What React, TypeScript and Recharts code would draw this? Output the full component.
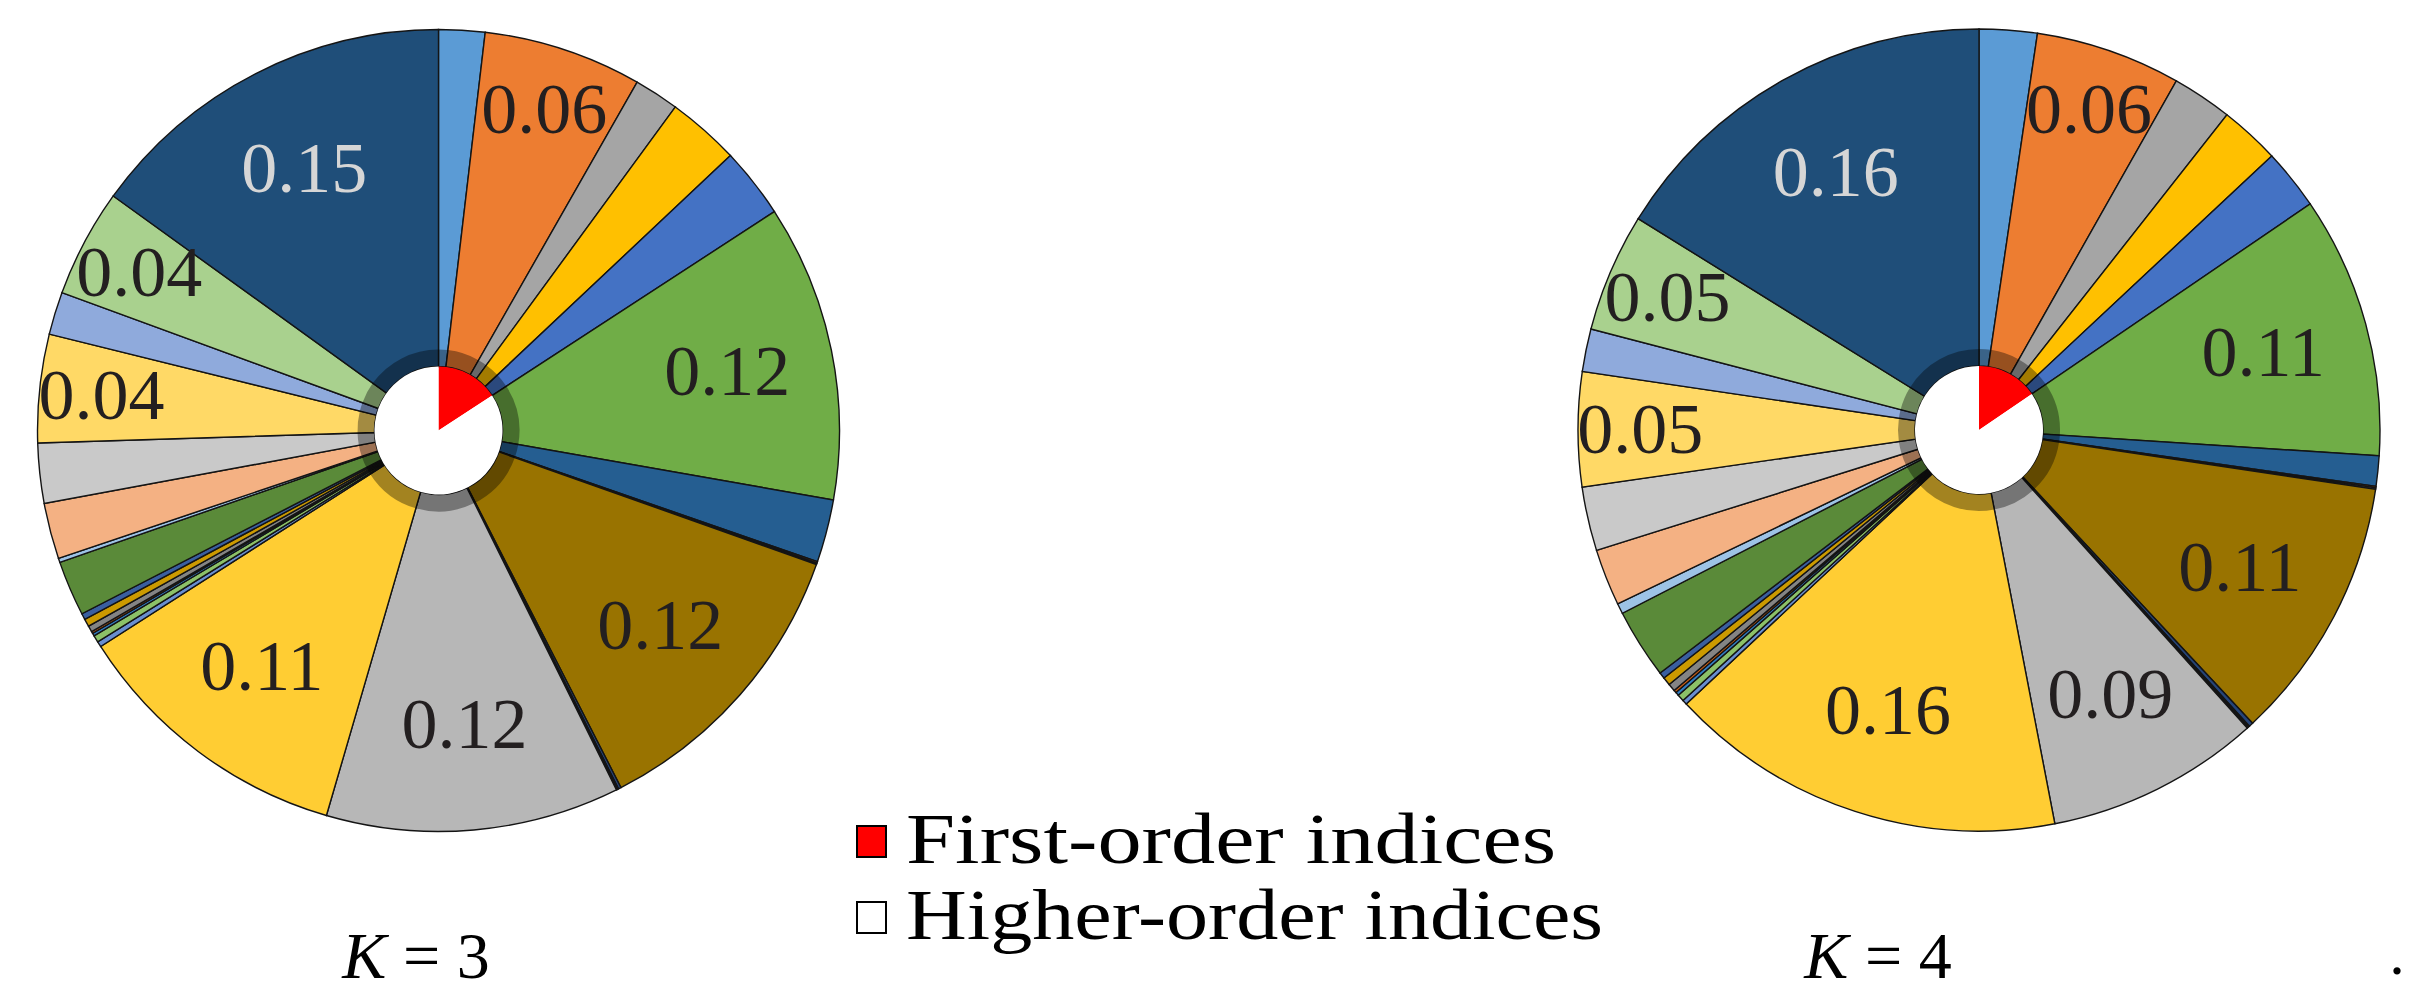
import React from 'react';
import { PieChart, Pie, Cell } from 'recharts';

// 31 Sobol index subsets (5 first-order + 26 higher-order)
const indexNames = [
  'S1', 'S2', 'S3', 'S4', 'S5',
  'S12', 'S13', 'S14', 'S15', 'S23', 'S24', 'S25', 'S34', 'S35', 'S45',
  'S123', 'S124', 'S125', 'S134', 'S135', 'S145', 'S234', 'S235', 'S245', 'S345',
  'S1234', 'S1235', 'S1245', 'S1345', 'S2345', 'S12345',
];

const sliceColors = [
  '#5B9BD5', '#ED7D31', '#A5A5A5', '#FFC000', '#4472C4',
  '#70AD47', '#255E91', '#9E480E', '#636363', '#997300',
  '#264478', '#43682B', '#7CAFDD', '#F1975A', '#B7B7B7',
  '#FFCD33', '#698ED0', '#8CC168', '#327DC2', '#D26012',
  '#848484', '#CC9A00', '#3A5FA0', '#5A8A39', '#9DC3E6',
  '#F4B183', '#C9C9C9', '#FFD966', '#8FAADC', '#A9D18E',
  '#1F4E79',
];

const valuesK3 = [
  0.0186, 0.0639, 0.0181, 0.0292, 0.0283,
  0.1197, 0.0253, 0.0006, 0.0006, 0.1206,
  0.0011, 0.0003, 0.0003, 0.0003, 0.1183,
  0.1144, 0.0022, 0.0028, 0.0011, 0.0008,
  0.0025, 0.0031, 0.0025, 0.0222, 0.0017,
  0.0225, 0.0242, 0.0436, 0.0172, 0.0436,
  0.1506,
];

const valuesK4 = [
  0.0233, 0.0586, 0.0242, 0.0242, 0.0244,
  0.1056, 0.0122, 0.0006, 0.0006, 0.1069,
  0.0017, 0.0004, 0.0004, 0.0004, 0.0863,
  0.1606, 0.0019, 0.0028, 0.0014, 0.0011,
  0.0031, 0.0033, 0.0025, 0.0281, 0.0042,
  0.0228, 0.0258, 0.0461, 0.0172, 0.0478,
  0.1617,
];

const firstOrderCount = 5;
const panelTitles = ['3', '4'];
const legendLabels = ['First-order indices', 'Higher-order indices'];
const legendColors = ['#FF0000', '#FFFFFF'];

const W = 2417;
const H = 996;
const R_OUT = 401;
const R_IN = 64;
const R_RING = 81;
const SERIF = "'Liberation Serif', 'DejaVu Serif', serif";
const RAD = Math.PI / 180;

const toData = (values: number[]) =>
  values.map((v, i) => ({ name: indexNames[i], value: v }));

const toInner = (values: number[]) => {
  const total = values.reduce((a, b) => a + b, 0);
  const first = values.slice(0, firstOrderCount).reduce((a, b) => a + b, 0);
  return [
    { name: legendLabels[0], value: first },
    { name: legendLabels[1], value: total - first },
  ];
};

const renderLabel = (props: any) => {
  const { cx, cy, midAngle, outerRadius, value, index } = props;
  if (value < 0.035) return null;
  const r = outerRadius * (value >= 0.08 ? 0.735 : 0.845);
  const x = cx + r * Math.cos(-midAngle * RAD);
  const y = cy + r * Math.sin(-midAngle * RAD);
  const light = index === indexNames.length - 1;
  return (
    <text
      x={x}
      y={y}
      textAnchor="middle"
      dominantBaseline="central"
      fill={light ? '#D6D6D6' : '#231F20'}
      fontSize={72}
      fontFamily={SERIF}
    >
      {Number(value).toFixed(2)}
    </text>
  );
};

const centers = [
  { cx: 438.5, cy: 430.5 },
  { cx: 1979, cy: 430 },
];

const legendWidths = [650, 697];

export default function App() {
  const panels = [valuesK3, valuesK4];
  return (
    <div style={{ position: 'absolute', left: 0, top: 0, width: W, height: H, background: '#fff' }}>
      <PieChart width={W} height={H} margin={{ top: 0, right: 0, bottom: 0, left: 0 }}>
        {panels.map((vals, p) => (
          <Pie
            key={'outer' + p}
            data={toData(vals)}
            dataKey="value"
            nameKey="name"
            cx={centers[p].cx}
            cy={centers[p].cy}
            innerRadius={R_IN}
            outerRadius={R_OUT}
            startAngle={90}
            endAngle={-270}
            stroke="#141414"
            strokeWidth={1.4}
            label={renderLabel}
            labelLine={false}
            isAnimationActive={false}
          >
            {vals.map((_, i) => (
              <Cell key={i} fill={sliceColors[i]} />
            ))}
          </Pie>
        ))}
        {panels.map((vals, p) => (
          <Pie
            key={'ring' + p}
            data={toData(vals)}
            dataKey="value"
            nameKey="name"
            cx={centers[p].cx}
            cy={centers[p].cy}
            innerRadius={R_IN}
            outerRadius={R_RING}
            startAngle={90}
            endAngle={-270}
            stroke="none"
            isAnimationActive={false}
          >
            {vals.map((_, i) => (
              <Cell key={i} fill="#000000" fillOpacity={0.36} />
            ))}
          </Pie>
        ))}
        {panels.map((vals, p) => (
          <Pie
            key={'inner' + p}
            data={toInner(vals)}
            dataKey="value"
            nameKey="name"
            cx={centers[p].cx}
            cy={centers[p].cy}
            innerRadius={0}
            outerRadius={R_IN}
            startAngle={90}
            endAngle={-270}
            stroke="none"
            isAnimationActive={false}
          >
            {legendColors.map((c, i) => (
              <Cell key={i} fill={c} />
            ))}
          </Pie>
        ))}
      </PieChart>
      <svg
        width={W}
        height={H}
        style={{ position: 'absolute', left: 0, top: 0, pointerEvents: 'none' }}
      >
        {legendLabels.map((lab, i) => (
          <g key={lab}>
            <rect
              x={857}
              y={826 + i * 76}
              width={29}
              height={31}
              fill={legendColors[i]}
              stroke="#000"
              strokeWidth={2}
            />
            <text
              x={906}
              y={863 + i * 76}
              fontSize={72}
              fontFamily={SERIF}
              fill="#000"
              textLength={legendWidths[i]}
              lengthAdjust="spacingAndGlyphs"
            >
              {lab}
            </text>
          </g>
        ))}
        <text x={416} y={978} textAnchor="middle" fontSize={66} fontFamily={SERIF} fill="#000">
          <tspan fontStyle="italic">K</tspan>
          <tspan> = {panelTitles[0]}</tspan>
        </text>
        <text x={1878} y={978} textAnchor="middle" fontSize={66} fontFamily={SERIF} fill="#000">
          <tspan fontStyle="italic">K</tspan>
          <tspan> = {panelTitles[1]}</tspan>
        </text>
        <text x={2397} y={974} textAnchor="middle" fontSize={62} fontFamily={SERIF} fill="#000">
          .
        </text>
      </svg>
    </div>
  );
}
